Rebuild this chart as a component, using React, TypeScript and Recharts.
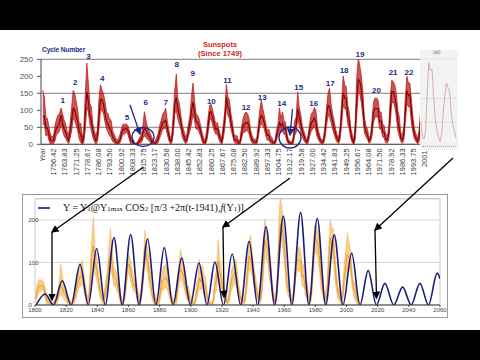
import React from "react";
import {
  ComposedChart,
  LineChart,
  Line,
  Area,
  XAxis,
  YAxis,
  CartesianGrid,
  ReferenceDot,
  ReferenceArea,
} from "recharts";

// yearly sunspot numbers, 1749 - 2008
const startYear = 1749;

const annualMean = [
  80.9, 83.4, 47.7, 47.8, 30.7, 12.2, 9.6, 10.2, 32.4, 47.6,
  54.0, 62.9, 85.9, 61.2, 45.1, 36.4, 20.9, 11.4, 37.8, 69.8,
  106.1, 100.8, 81.6, 66.5, 34.8, 30.6, 7.0, 19.8, 92.5, 154.4,
  125.9, 84.8, 68.1, 38.5, 22.8, 10.2, 24.1, 82.9, 132.0, 130.9,
  118.1, 89.9, 66.6, 60.0, 46.9, 41.0, 21.3, 16.0, 6.4, 4.1,
  6.8, 14.5, 34.0, 45.0, 43.1, 47.5, 42.2, 28.1, 10.1, 8.1,
  2.5, 0.0, 1.4, 5.0, 12.2, 13.9, 35.4, 45.8, 41.1, 30.1,
  23.9, 15.6, 6.6, 4.0, 1.8, 8.5, 16.6, 36.3, 49.6, 64.2,
  67.0, 70.9, 47.8, 27.5, 8.5, 13.2, 56.9, 121.5, 138.3, 103.2,
  85.7, 64.6, 36.7, 24.2, 10.7, 15.0, 40.1, 61.5, 98.5, 124.7,
  96.3, 66.6, 64.5, 54.1, 39.0, 20.6, 6.7, 4.3, 22.7, 54.8,
  93.8, 95.8, 77.2, 59.1, 44.0, 47.0, 30.5, 16.3, 7.3, 37.6,
  74.0, 139.0, 111.2, 101.6, 66.2, 44.7, 17.0, 11.3, 12.4, 3.4,
  6.0, 32.3, 54.3, 59.7, 63.7, 63.5, 52.2, 25.4, 13.1, 6.8,
  6.3, 7.1, 35.6, 73.0, 85.1, 78.0, 64.0, 41.8, 26.2, 26.7,
  12.1, 9.5, 2.7, 5.0, 24.4, 42.0, 63.5, 53.8, 62.0, 48.5,
  43.9, 18.6, 5.7, 3.6, 1.4, 9.6, 47.4, 57.1, 103.9, 80.6,
  63.6, 37.6, 26.1, 14.2, 5.8, 16.7, 44.3, 63.9, 69.0, 77.8,
  64.9, 35.7, 21.2, 11.1, 5.7, 8.7, 36.1, 79.7, 114.4, 109.6,
  88.8, 67.8, 47.5, 30.6, 16.3, 9.6, 33.2, 92.6, 151.6, 136.3,
  134.7, 83.9, 69.4, 31.5, 13.9, 4.4, 38.0, 141.7, 190.2, 184.8,
  159.0, 112.3, 53.9, 37.5, 27.9, 10.2, 15.1, 47.0, 93.8, 105.9,
  105.5, 104.5, 66.6, 68.9, 38.0, 34.5, 15.5, 12.6, 27.5, 92.5,
  155.4, 154.6, 140.4, 115.9, 66.6, 45.9, 17.9, 13.4, 29.4, 100.2,
  157.6, 142.6, 145.7, 94.3, 54.6, 29.9, 17.5, 8.6, 21.5, 64.3,
  93.3, 119.6, 111.0, 104.0, 63.7, 40.4, 29.8, 15.2, 7.5, 2.9,
];

// lowest / highest monthly value seen in each year (estimated)
const monthlyLow = [
  58, 60, 25, 30, 12, 0, 0, 2, 10, 30,
  32, 40, 60, 40, 25, 18, 8, 2, 18, 40,
  75, 70, 55, 40, 15, 5, 0, 5, 45, 110,
  95, 60, 40, 20, 8, 0, 8, 45, 100, 100,
  90, 65, 45, 35, 25, 20, 8, 5, 0, 0,
  0, 5, 20, 30, 30, 38, 30, 15, 0, 0,
  0, 0, 0, 0, 4, 5, 18, 25, 20, 15,
  10, 5, 0, 0, 0, 0, 5, 18, 30, 45,
  45, 50, 30, 12, 2, 3, 30, 90, 100, 75,
  60, 45, 20, 10, 2, 5, 25, 40, 60, 90,
  70, 45, 45, 35, 25, 8, 0, 0, 8, 35,
  70, 75, 55, 40, 30, 30, 15, 5, 0, 18,
  50, 110, 85, 75, 45, 28, 8, 2, 3, 0,
  0, 15, 35, 35, 40, 40, 30, 12, 4, 0,
  0, 0, 18, 50, 60, 55, 45, 25, 12, 12,
  4, 2, 0, 0, 10, 25, 40, 35, 40, 30,
  25, 8, 0, 0, 0, 2, 25, 35, 75, 55,
  40, 22, 12, 5, 0, 5, 25, 40, 45, 55,
  40, 20, 10, 3, 0, 2, 18, 55, 85, 80,
  65, 45, 30, 15, 6, 2, 15, 60, 115, 105,
  100, 60, 45, 18, 4, 0, 15, 90, 150, 150,
  120, 80, 35, 22, 15, 3, 6, 25, 65, 80,
  80, 80, 45, 45, 22, 18, 5, 3, 12, 60,
  120, 125, 110, 85, 40, 25, 8, 3, 12, 65,
  120, 110, 110, 60, 35, 15, 8, 2, 6, 40,
  65, 90, 80, 80, 45, 25, 12, 5, 0, 0,
];

const monthlyHigh = [
  159, 139, 80, 76, 52, 30, 22, 24, 55, 73,
  86, 90, 107, 90, 72, 60, 38, 28, 62, 110,
  158, 150, 125, 100, 60, 62, 20, 40, 145, 239,
  180, 120, 110, 60, 40, 25, 42, 130, 175, 160,
  148, 125, 95, 90, 75, 70, 40, 30, 18, 12,
  18, 30, 50, 60, 58, 60, 55, 42, 22, 20,
  8, 1, 6, 12, 22, 28, 55, 96, 70, 50,
  40, 30, 18, 12, 7, 20, 30, 55, 70, 90,
  95, 106, 70, 45, 18, 28, 90, 160, 206, 135,
  120, 85, 55, 40, 22, 30, 60, 85, 140, 180,
  130, 90, 85, 75, 55, 35, 18, 12, 40, 80,
  115, 117, 100, 80, 60, 65, 45, 28, 18, 60,
  100, 176, 140, 130, 90, 65, 30, 25, 25, 10,
  14, 50, 75, 90, 95, 90, 75, 40, 25, 15,
  15, 16, 55, 100, 130, 105, 85, 60, 40, 45,
  25, 20, 8, 12, 40, 60, 107, 75, 95, 70,
  65, 30, 12, 10, 5, 20, 70, 80, 154, 110,
  90, 55, 40, 25, 12, 30, 65, 90, 95, 108,
  100, 55, 35, 20, 12, 18, 55, 105, 150, 165,
  120, 90, 70, 45, 28, 20, 55, 125, 201, 175,
  170, 115, 95, 48, 28, 12, 70, 200, 254, 230,
  200, 150, 80, 55, 45, 20, 25, 70, 125, 136,
  136, 130, 95, 95, 60, 55, 30, 25, 45, 135,
  188, 185, 175, 150, 100, 80, 30, 30, 50, 140,
  200, 180, 180, 130, 80, 45, 30, 18, 40, 95,
  130, 170, 150, 130, 85, 55, 50, 28, 15, 8,
];

// x labels of the upper chart
const topTickYears = [
  1749, 1756.42, 1763.83, 1771.25, 1778.67, 1786.08, 1793.5, 1800.92, 1808.33,
  1815.75, 1823.17, 1830.58, 1838, 1845.42, 1852.83, 1860.25, 1867.67, 1875.08,
  1882.5, 1889.92, 1897.33, 1904.75, 1912.17, 1919.58, 1927, 1934.42, 1941.83,
  1949.25, 1956.67, 1964.08, 1971.5, 1978.92, 1986.33, 1993.75, 2001.17,
];
const topTickLabels = [
  "Year", "1756.42", "1763.83", "1771.25", "1778.67", "1786.08", "1793.50",
  "1800.92", "1808.33", "1815.75", "1823.17", "1830.58", "1838.00", "1845.42",
  "1852.83", "1860.25", "1867.67", "1875.08", "1882.50", "1889.92", "1897.33",
  "1904.75", "1912.17", "1919.58", "1927.00", "1934.42", "1941.83", "1949.25",
  "1956.67", "1964.08", "1971.50", "1978.92", "1986.33", "1993.75", "2001.",
];

// cycle numbers and where their labels sit
const cycleNumbers = [1, 2, 3, 4, 5, 6, 7, 8, 9, 10, 11, 12, 13, 14, 15, 16, 17, 18, 19, 20, 21, 22];
const cycleYears = [
  1762.6, 1770.8, 1779.6, 1788.7, 1804.9, 1817.4, 1830.5, 1837.8, 1848.3, 1860.6, 1871.2,
  1883.5, 1894.2, 1907, 1918.2, 1928.1, 1939, 1948.1, 1958.6, 1969.4, 1980.4, 1990.9,
];
const cycleLabelHeights = [
  130, 181, 258, 193, 78, 122, 122, 234, 209, 127, 187,
  109, 138, 119, 166, 119, 178, 218, 265, 158, 211, 212,
];

// the cos^2 model curve, minima and maxima
const modelYears = [
  1800.8, 1806.4, 1811.9, 1817.5, 1823.2, 1828.9, 1834.2, 1839.6, 1845.1, 1850.7,
  1856.0, 1861.4, 1866.8, 1872.3, 1877.6, 1883.0, 1888.6, 1894.2, 1899.7, 1905.3,
  1910.4, 1915.5, 1921.0, 1926.6, 1932.0, 1937.5, 1942.9, 1948.3, 1953.8, 1959.4,
  1964.9, 1970.5, 1975.8, 1981.2, 1986.6, 1992.1, 1997.7, 2003.3, 2008.6, 2013.9,
  2019.2, 2024.6, 2030.3, 2036.0, 2041.5, 2047.1, 2052.6, 2058.2, 2060,
];
const modelValues = [
  0, 26, 0, 57, 0, 96, 0, 133, 0, 159,
  0, 166, 0, 156, 0, 135, 0, 111, 0, 99,
  0, 101, 0, 120, 0, 150, 0, 184, 0, 209,
  0, 218, 0, 204, 0, 165, 0, 122, 0, 81,
  0, 51, 0, 42, 0, 51, 0, 75, 62,
];

const bottomTicks = [1800, 1820, 1840, 1860, 1880, 1900, 1920, 1940, 1960, 1980, 2000, 2020, 2040, 2060];

const sunspotRows = annualMean.map((m, i) => ({
  year: startYear + i + 0.5,
  mean: m,
  band: [monthlyLow[i], monthlyHigh[i]],
}));
const topRows = sunspotRows.filter((r) => r.year < 2002);
const bottomRows = sunspotRows.filter((r) => r.year > 1800);
const insetRows = sunspotRows.filter((r) => r.year > 1984 && r.year < 2007);
const modelRows = modelYears.map((y, i) => ({ year: y, model: modelValues[i] }));

const NAVY = "#1c2a86";

const YearTick = (props: any) => {
  const { x, y, payload } = props;
  const i = topTickYears.indexOf(payload.value);
  const label = i >= 0 ? topTickLabels[i] : "";
  const tx = x + 2.7;
  return (
    <text
      x={tx}
      y={y}
      transform={`rotate(-90 ${tx} ${y})`}
      textAnchor="end"
      fontSize={i === 0 ? 6.5 : 7.5}
      fill="#3a3a3a"
    >
      {label}
    </text>
  );
};

const SmallYTick = (props: any) => {
  const { y, payload } = props;
  return (
    <text x={28.5} y={y + 2} fontSize={6} fill="#444" textAnchor="start">
      {payload.value}
    </text>
  );
};

function TopChart() {
  return (
    <ComposedChart
      width={480}
      height={170}
      data={topRows}
      margin={{ top: 29.3, right: 54, bottom: 21.7, left: 11 }}
    >
      <CartesianGrid vertical={false} stroke="#7d7d7d" strokeWidth={1} />
      <XAxis
        dataKey="year"
        type="number"
        domain={[1748.3, 2002.1]}
        ticks={topTickYears}
        interval={0}
        tick={<YearTick />}
        tickLine={false}
        tickSize={0}
        tickMargin={4}
        height={34}
        axisLine={{ stroke: "#555" }}
        allowDataOverflow
      />
      <YAxis
        domain={[0, 250]}
        ticks={[0, 50, 100, 150, 200, 250]}
        width={30}
        tickSize={4}
        tickMargin={4}
        tick={{ fontSize: 8, fill: "#555" }}
        tickLine={{ stroke: "#555" }}
        axisLine={{ stroke: "#444" }}
        allowDataOverflow
      />
      <Area
        dataKey="band"
        type="linear"
        stroke="#c42020"
        strokeWidth={0.8}
        fill="#b71111"
        fillOpacity={0.72}
        isAnimationActive={false}
      />
      <Line
        dataKey="mean"
        type="linear"
        stroke="#7e0000"
        strokeWidth={1.1}
        dot={false}
        isAnimationActive={false}
      />
      {cycleNumbers.map((n, i) => (
        <ReferenceDot
          key={n}
          x={cycleYears[i]}
          y={cycleLabelHeights[i]}
          ifOverflow="visible"
          shape={(p: any) => (
            <text
              x={p.cx}
              y={p.cy}
              textAnchor="middle"
              dominantBaseline="central"
              fontSize={8}
              fontWeight="bold"
              fill={NAVY}
            >
              {n}
            </text>
          )}
        />
      ))}
    </ComposedChart>
  );
}

function BottomChart() {
  return (
    <ComposedChart
      width={480}
      height={140}
      data={bottomRows}
      margin={{ top: 8.75, right: 40, bottom: 13, left: 15 }}
    >
      <CartesianGrid vertical={false} horizontal={true} stroke="#d9d9d9" />
      <ReferenceArea x1={1800} x2={2060} y1={0} y2={250} fill="none" stroke="#c8c8c8" />
      <XAxis
        dataKey="year"
        type="number"
        domain={[1800, 2060]}
        ticks={bottomTicks}
        interval={0}
        tickSize={2}
        tickMargin={1}
        height={12}
        tick={{ fontSize: 6, fill: "#444" }}
        tickLine={{ stroke: "#444" }}
        axisLine={{ stroke: "#444" }}
        allowDataOverflow
      />
      <YAxis
        domain={[0, 250]}
        ticks={[0, 100, 200]}
        width={20}
        tick={<SmallYTick />}
        tickLine={false}
        axisLine={false}
        allowDataOverflow
      />
      <Area
        dataKey="band"
        type="linear"
        stroke="#f0b044"
        strokeWidth={0.5}
        fill="#f5bf62"
        fillOpacity={0.75}
        isAnimationActive={false}
      />
      <Line
        dataKey="mean"
        type="linear"
        stroke="#e38f1e"
        strokeWidth={0.8}
        dot={false}
        isAnimationActive={false}
      />
      <Line
        data={modelRows}
        dataKey="model"
        type="monotone"
        stroke="#1b1b7e"
        strokeWidth={1.6}
        dot={false}
        isAnimationActive={false}
      />
    </ComposedChart>
  );
}

function Inset() {
  return (
    <div style={{ position: "absolute", left: 420, top: 50, width: 38, height: 100, background: "#f4f3f3" }}>
      <div style={{ position: "absolute", left: 13, top: 0, fontSize: 4.5, color: "#777" }}>(all)</div>
      <LineChart width={38} height={96} data={insetRows} margin={{ top: 9, right: 2, bottom: 0, left: 0 }}>
        <CartesianGrid vertical={false} stroke="#e2e2e2" />
        <XAxis dataKey="year" type="number" domain={[1984, 2006]} hide />
        <YAxis domain={[0, 165]} hide />
        <Line
          dataKey="mean"
          type="linear"
          stroke="#d2a6a6"
          strokeWidth={0.9}
          dot={false}
          isAnimationActive={false}
        />
      </LineChart>
      <div style={{ position: "absolute", left: 2, top: 96, width: 34, borderTop: "1px dotted #aaa" }} />
    </div>
  );
}

export default function App() {
  return (
    <div
      style={{
        position: "absolute",
        left: 0,
        top: 0,
        width: 480,
        height: 360,
        background: "#000",
        overflow: "hidden",
        fontFamily: "'Liberation Sans', Arial, sans-serif",
      }}
    >
      <div style={{ position: "absolute", left: 0, top: 30, width: 480, height: 300, background: "#fff" }} />

      <div style={{ position: "absolute", left: 0, top: 30 }}>
        <TopChart />
      </div>

      <div style={{ position: "absolute", left: 42, top: 46, fontSize: 6.6, letterSpacing: -0.1, fontWeight: "bold", color: NAVY, whiteSpace: "nowrap" }}>
        Cycle Number
      </div>
      <div style={{ position: "absolute", left: 190, top: 40, width: 60, textAlign: "center", fontSize: 7.5, lineHeight: "9px", fontWeight: "bold", color: "#d02424" }}>
        Sunspots
        <br />
        (Since 1749)
      </div>

      <Inset />

      <div style={{ position: "absolute", left: 22, top: 193.5, width: 424, height: 122, border: "1px solid #9a9a9a", background: "#fff" }} />
      <div style={{ position: "absolute", left: 0, top: 190 }}>
        <BottomChart />
      </div>
      <div style={{ position: "absolute", left: 38, top: 202, display: "flex", alignItems: "center", whiteSpace: "nowrap" }}>
        <svg width={14} height={6}>
          <line x1={0} y1={3} x2={12} y2={3} stroke="#1b1b7e" strokeWidth={1.6} />
        </svg>
        <span style={{ marginLeft: 11, fontFamily: "'Liberation Serif', 'Times New Roman', serif", fontSize: 10, color: "#111" }}>
          Y = Y<span style={{ fontSize: 7 }}>1</span>@Y<span style={{ fontSize: 7 }}>1max</span> COS<span style={{ fontSize: 7 }}>2</span> [π/3 +2π(t-1941),<i>f</i>(Y<span style={{ fontSize: 7 }}>1</span>)]
        </span>
      </div>

      <svg width={480} height={360} style={{ position: "absolute", left: 0, top: 0, pointerEvents: "none" }}>
        <defs>
          <marker id="ahBlack" markerWidth="6" markerHeight="6" refX="5" refY="3" orient="auto">
            <path d="M0,0 L6,3 L0,6 z" fill="#000" />
          </marker>
          <marker id="ahNavy" markerWidth="6" markerHeight="6" refX="5" refY="3" orient="auto">
            <path d="M0,0 L6,3 L0,6 z" fill={NAVY} />
          </marker>
        </defs>
        <g stroke="#000" strokeWidth={1.3} fill="none">
          <line x1={143.5} y1={167} x2={52} y2={232} markerEnd="url(#ahBlack)" />
          <line x1={52} y1={232} x2={52} y2={300} markerEnd="url(#ahBlack)" />
          <line x1={290} y1={178} x2={223} y2={227} markerEnd="url(#ahBlack)" />
          <line x1={223} y1={227} x2={224} y2={297} markerEnd="url(#ahBlack)" />
          <line x1={453} y1={158} x2={375} y2={230} markerEnd="url(#ahBlack)" />
          <line x1={375} y1={230} x2={376.5} y2={298} markerEnd="url(#ahBlack)" />
        </g>
        <g stroke={NAVY} strokeWidth={1.3} fill="none">
          <line x1={130} y1={105} x2={140} y2={134} markerEnd="url(#ahNavy)" />
          <ellipse cx={143} cy={137} rx={11} ry={9.5} />
          <line x1={292.5} y1={109} x2={290} y2={135} markerEnd="url(#ahNavy)" />
          <ellipse cx={290} cy={137.5} rx={11} ry={10.5} />
        </g>
      </svg>
    </div>
  );
}
